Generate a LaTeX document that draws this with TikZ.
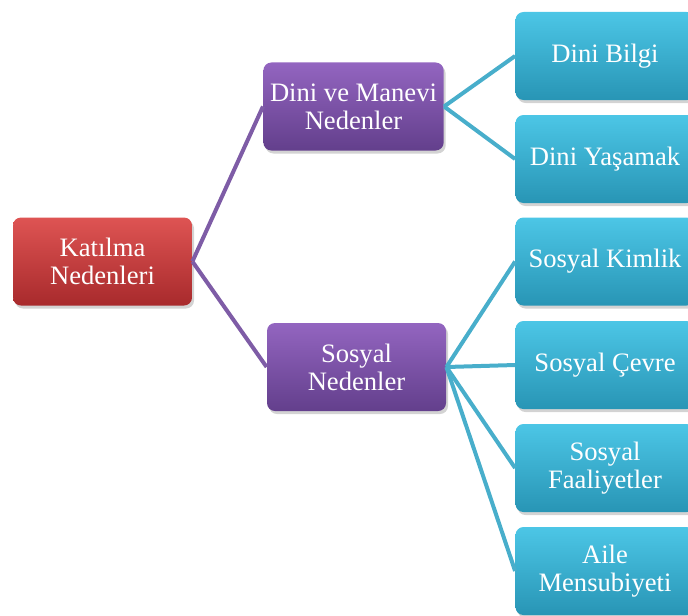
\documentclass[tikz,border=0pt]{standalone}
\usepackage{fontspec}
\setmainfont{Liberation Serif}
\usetikzlibrary{shadows}

\definecolor{kirmiziust}{HTML}{DE5453}
\definecolor{kirmizi}{HTML}{CC3F40}
\definecolor{kirmizialt}{HTML}{A82A2C}
\definecolor{morust}{HTML}{9365C0}
\definecolor{mor}{HTML}{7D53A8}
\definecolor{moralt}{HTML}{633F8C}
\definecolor{maviust}{HTML}{4CC6E6}
\definecolor{mavi}{HTML}{3AB3D6}
\definecolor{mavialt}{HTML}{2895B5}
\definecolor{morhat}{HTML}{7E5CA6}
\definecolor{mavihat}{HTML}{48AECB}

\begin{document}
\begin{tikzpicture}[x=0.5pt, y=-0.5pt,
    kutu/.style={rectangle, rounded corners=4pt, minimum width=89.5pt, minimum height=44pt,
      align=center, text=white, font=\rmfamily\fontsize{13.3}{14}\selectfont,
      drop shadow={opacity=0.35, shadow xshift=1pt, shadow yshift=-1.5pt}},
    kok/.style={kutu, top color=kirmiziust, middle color=kirmizi, bottom color=kirmizialt},
    ara/.style={kutu, top color=morust, middle color=mor, bottom color=moralt},
    uc/.style={kutu, top color=maviust, middle color=mavi, bottom color=mavialt},
    morcizgi/.style={draw=morhat, line width=2pt},
    mavicizgi/.style={draw=mavihat, line width=2pt}]
    \useasboundingbox (0,0) rectangle (688,615);
    \clip (0,0) rectangle (688,615);

    % kutular: kök, ara düzey, uç düzey
    \node[kok] (K) at (102.5, 261.5) {Katılma\\Nedenleri};

    \node[ara] (DM) at (353.5, 106.5) {Dini ve Manevi\\Nedenler};
    \node[ara] (SN) at (356.5, 367) {Sosyal\\Nedenler};

    \node[uc] (DB) at (605, 56) {Dini Bilgi};
    \node[uc] (DY) at (605, 159) {Dini Yaşamak};
    \node[uc] (SK) at (605, 261.5) {Sosyal Kimlik};
    \node[uc] (SC) at (605, 365) {Sosyal Çevre};
    \node[uc] (SF) at (605, 468) {Sosyal\\Faaliyetler};
    \node[uc] (AM) at (605, 571) {Aile\\Mensubiyeti};

    \draw[morcizgi] (K.east) -- (DM.west);
    \draw[morcizgi] (K.east) -- (SN.west);
    \draw[mavicizgi] (DM.east) -- (DB.west);
    \draw[mavicizgi] (DM.east) -- (DY.west);
    \draw[mavicizgi] (SN.east) -- (SK.west);
    \draw[mavicizgi] (SN.east) -- (SC.west);
    \draw[mavicizgi] (SN.east) -- (SF.west);
    \draw[mavicizgi] (SN.east) -- (AM.west);

  \end{tikzpicture}
\end{document}
